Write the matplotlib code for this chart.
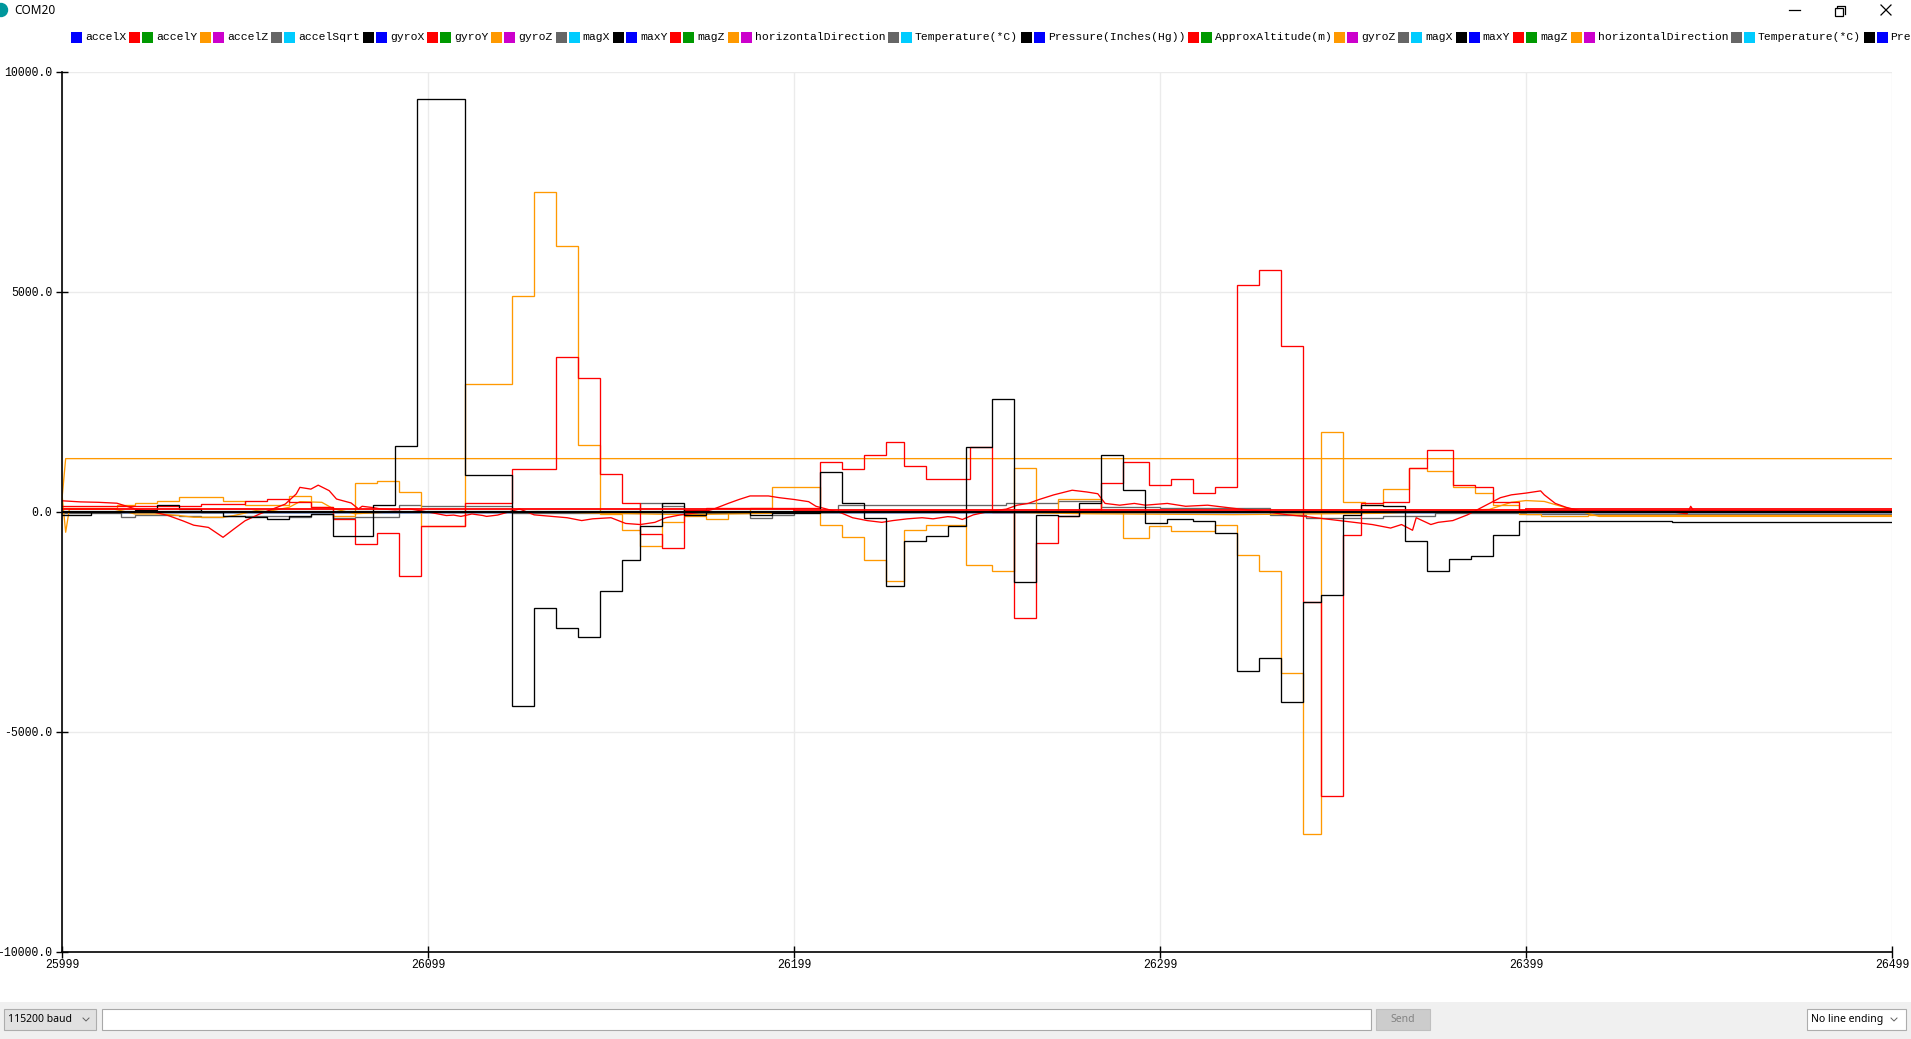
"""Arduino serial plotter screenshot (COM20) rebuilt with matplotlib."""

import matplotlib
matplotlib.use("Agg")
import matplotlib.pyplot as plt
from matplotlib.patches import Rectangle, Circle

W, H = 1911, 1039
X0 = 25999          # first sample number on the x axis
N = 500             # samples visible in the window

PALETTE = ["#0000FF", "#FF0000", "#009900", "#FF9900",
           "#CC00CC", "#666666", "#00CCFF", "#000000"]

LEGEND_LABELS = [
    "accelX", "", "accelY", "", "accelZ", "", "accelSqrt", "",
    "gyroX", "", "gyroY", "", "gyroZ", "", "magX", "", "maxY", "",
    "magZ", "", "horizontalDirection", "", "Temperature(*C)", "",
    "Pressure(Inches(Hg))", "", "ApproxAltitude(m)", "", "gyroZ", "",
    "magX", "", "maxY", "", "magZ", "", "horizontalDirection", "",
    "Temperature(*C)", "", "Pressure(Inches(Hg))",
]

X_TICKS = [25999, 26099, 26199, 26299, 26399, 26499]
Y_TICKS = [-10000, -5000, 0, 5000, 10000]

# ── step-like series: sample offset where a value starts, and the value ─────
BLACK_START = [0, 8, 20, 26, 32, 38, 44, 50, 56, 62, 68, 74, 85, 91, 97, 110,
               123, 129, 135, 141, 147, 153, 158, 164, 170, 176, 188, 194, 207,
               213, 219, 225, 230, 236, 242, 247, 254, 260, 266, 272, 278, 284,
               290, 296, 302, 309, 315, 321, 327, 333, 339, 344, 350, 355, 361,
               367, 373, 379, 385, 391, 398, 440, 476]
BLACK_VAL = [-60, 0, 50, 160, 70, 0, -100, -120, -160, -80, -40, -550, 160,
             1490, 9380, 845, -4420, -2180, -2640, -2830, -1790, -1100, -325,
             195, -65, 0, -65, -20, 910, 195, -130, -1690, -650, -550, -325,
             1470, 2560, -1600, -65, -90, 195, 1300, 500, -260, -155, -195,
             -480, -3610, -3315, -4320, -2040, -1885, -65, 170, 130, -650,
             -1330, -1070, -1000, -520, -210, -235, -230]

ORANGE_START = [0, 15, 20, 26, 32, 44, 50, 62, 68, 74, 80, 86, 92, 98, 110,
                123, 129, 135, 141, 147, 153, 158, 164, 170, 176, 182, 188, 194,
                207, 213, 219, 225, 230, 236, 247, 254, 260, 266, 272, 284, 290,
                297, 303, 315, 321, 327, 333, 339, 344, 350, 356, 361, 368, 373,
                380, 386, 391, 398, 404, 417]
ORANGE_VAL = [80, 160, 200, 260, 350, 260, 160, 370, 105, -80, 650, 710, 460,
              -310, 2920, 4900, 7280, 6040, 1520, -40, -415, -780, -235, -90,
              -150, 0, 100, 560, -300, -560, -1100, -1560, -415, -300, -1200,
              -1330, 1000, 0, 300, 0, -585, -325, -430, -290, -975, -1330,
              -3670, -7320, 1820, 220, 170, 520, 1000, 940, 560, 430, 170, -40,
              -100, -65]

RED_START = [0, 38, 50, 56, 62, 68, 74, 80, 86, 92, 98, 110, 123, 135, 141,
             147, 153, 158, 164, 170, 176, 207, 213, 219, 225, 230, 236, 248,
             254, 260, 266, 272, 278, 284, 290, 297, 303, 309, 315, 321, 327,
             333, 339, 344, 350, 355, 361, 368, 373, 380, 386, 391, 398]
RED_VAL = [140, 180, 260, 295, 220, 105, -160, -725, -485, -1445, -320, 195,
           975, 3530, 3050, 870, 195, -495, -820, 40, 90, 1140, 975, 1300, 1600,
           1040, 740, 1470, 0, -2400, -715, -90, 65, 650, 1140, 610, 740, 430,
           560, 5160, 5490, 3770, -2040, -6460, -520, 195, 220, 1010, 1400, 610,
           560, 220, 40]

GRAY_START = [0, 16, 20, 32, 38, 44, 62, 68, 74, 80, 92, 98, 123, 158, 164,
              170, 188, 194, 200, 212, 230, 258, 272, 284, 300, 330, 340, 361,
              375, 400]
GRAY_VAL = [-30, -120, -60, -80, -120, -80, -120, -40, -140, -120, 160, 130,
            -20, 195, 130, -20, -130, -70, 0, 170, 150, 200, 260, 120, 80, -60,
            -130, -100, -20, -40]

# flat-ish traces sitting on the zero line
RED_FLAT_START = [0, 200, 400]
RED_FLAT_VAL = [60, 50, 60]
BLACK_FLAT_START = [0, 250]
BLACK_FLAT_VAL = [10, 0]
ZERO_START = [0]
ZERO_VAL = [0]

ORANGE_CONST_X = [0, 1, 500]
ORANGE_CONST_Y = [300, 1213, 1213]

# ── smooth traces: sample offset, value ─────────────────────────────────────
RED_WAVE_X = [0, 5, 10, 15, 20, 25, 29, 33, 36, 40, 44, 47, 50, 54, 57, 61, 64,
              65, 68, 70, 73, 75, 79, 81, 82, 85, 87, 91, 95, 100, 105, 107,
              109, 112, 115, 116, 119, 122, 125, 129, 138, 142, 145, 150, 154,
              158, 162, 165, 169, 175, 178, 182, 185, 188, 193, 196, 200, 204,
              206, 209, 213, 216, 220, 224, 227, 231, 235, 238, 242, 244, 246,
              249, 254, 258, 261, 264, 267, 271, 276, 280, 283, 285, 289, 293,
              296, 302, 307, 313, 318, 322, 327, 335, 340, 349, 353, 358, 363,
              366, 369, 370, 374, 376, 380, 384, 387, 390, 393, 396, 400, 404,
              405, 408, 411, 415, 420, 440, 444, 445, 446, 450, 500]
RED_WAVE_Y = [255, 230, 220, 200, 70, 0, -80, -200, -300, -350, -575, -385,
              -200, -45, 50, 180, 410, 560, 520, 610, 485, 295, 205, 70, 130,
              100, 70, 50, 70, 0, -80, -70, -100, -45, -80, -100, -70, 0, 70,
              -65, -130, -195, -155, -130, -260, -285, -235, -130, -65, 0, 65,
              195, 285, 365, 365, 325, 285, 235, 130, 65, -25, -130, -195, -235,
              -195, -155, -130, -155, -105, -120, -170, -65, 25, 65, 155, 195,
              285, 390, 495, 455, 415, 195, 155, 195, 155, 195, 130, 155, 105,
              65, 25, -65, -105, -195, -235, -285, -365, -285, -415, -130,
              -285, -235, -195, -65, 65, 195, 325, 390, 430, 480, 390, 195, 105,
              25, 0, 0, -40, 130, 0, 0, 0]

ORANGE_WAVE_X = [0, 1, 2, 14, 20, 27, 32, 36, 44, 47, 53, 56, 62, 65, 71, 74,
                 80, 90, 110, 130, 150, 170, 200, 240, 280, 320, 360, 390, 396,
                 400, 405, 410, 420, 500]
ORANGE_WAVE_Y = [400, -460, 60, 70, -45, -45, -80, -120, -120, -80, 30, 10, 105,
                 235, 220, 80, -40, 0, -10, 10, -30, -60, -20, 20, -40, -60, -30,
                 60, 220, 260, 240, 120, -100, -100]


def px_x(p):
    return p / W


def px_y(p):
    return 1 - p / H


def step_line(ax, starts, vals, color, lw=0.95):
    xs = [X0 + s for s in starts] + [X0 + N]
    ys = list(vals) + [vals[-1]]
    ax.plot(xs, ys, drawstyle="steps-post", color=color, lw=lw,
            solid_joinstyle="miter")


def main():
    fig = plt.figure(figsize=(W / 100, H / 100), dpi=100, facecolor="white")

    # overlay in pixel coordinates for the window chrome
    ov = fig.add_axes([0, 0, 1, 1])
    ov.set_xlim(0, W)
    ov.set_ylim(H, 0)
    ov.axis("off")
    ov.patch.set_alpha(0)

    # title bar
    ov.add_patch(Circle((1, 10), 6.5, color="#00979C", clip_on=False))
    ov.text(14, 10, "COM20", fontsize=8.5, family="Noto Sans",
            ha="left", va="center", color="#000000")
    ov.plot([1789, 1800], [10, 10], color="#000000", lw=0.9)
    ov.add_patch(Rectangle((1835, 8), 8, 8, fill=False, ec="#000000", lw=0.9))
    ov.plot([1837, 1837, 1845, 1845], [8, 6, 6, 14], color="#000000", lw=0.9)
    ov.plot([1881, 1891], [5, 15], color="#000000", lw=0.9)
    ov.plot([1881, 1891], [15, 5], color="#000000", lw=0.9)

    # legend row (monospace, so the cursor can advance by character count)
    mono = "Liberation Mono"
    char_w = 6.85
    cur = 71
    for i, lab in enumerate(LEGEND_LABELS):
        ov.add_patch(Rectangle((cur, 32), 11, 11, color=PALETTE[i % 8], lw=0))
        cur += 11
        if lab:
            cur += 3
            ov.text(cur, 37.5, lab, fontsize=8.2, family=mono,
                    ha="left", va="center", color="#000000")
            cur += len(lab) * char_w + 3
        else:
            cur += 2

    # bottom control bar
    ov.add_patch(Rectangle((0, 1002), W, 37, color="#F0F0F0", lw=0))
    ov.add_patch(Rectangle((4, 1009), 92, 21, fc="#E1E1E1", ec="#ADADAD", lw=0.8))
    ov.text(8, 1019.5, "115200 baud", fontsize=7.5, family="Noto Sans",
            ha="left", va="center", color="#000000")
    ov.plot([83, 86, 89], [1018, 1021, 1018], color="#606060", lw=0.7)
    ov.add_patch(Rectangle((102, 1009), 1269, 21, fc="white", ec="#A8A8A8", lw=0.8))
    ov.add_patch(Rectangle((1376, 1009), 54, 21, fc="#CCCCCC", ec="#BFBFBF", lw=0.8))
    ov.text(1403, 1019.5, "Send", fontsize=7.5, family="Noto Sans",
            ha="center", va="center", color="#838383")
    ov.add_patch(Rectangle((1807, 1009), 99, 21, fc="white", ec="#ADADAD", lw=0.8))
    ov.text(1811, 1019.5, "No line ending", fontsize=7.5, family="Noto Sans",
            ha="left", va="center", color="#000000")
    ov.plot([1891, 1894, 1897], [1018, 1021, 1018], color="#606060", lw=0.7)

    # plot area
    ax = fig.add_axes([px_x(62), px_y(952), px_x(1892 - 62), (952 - 72) / H])
    ax.set_facecolor("white")
    ax.set_xlim(X_TICKS[0], X_TICKS[-1])
    ax.set_ylim(Y_TICKS[0], Y_TICKS[-1])
    ax.set_axisbelow(True)
    ax.grid(True, color="#EBEBEB", lw=1.0)
    for side in ("top", "right"):
        ax.spines[side].set_visible(False)
    for side in ("left", "bottom"):
        ax.spines[side].set_color("#000000")
        ax.spines[side].set_linewidth(1.2)

    ax.set_xticks(X_TICKS)
    ax.set_xticklabels([str(t) for t in X_TICKS], family=mono, fontsize=8.3)
    ax.set_yticks(Y_TICKS)
    ax.set_yticklabels(["%.1f" % t for t in Y_TICKS], family=mono, fontsize=8.3)
    ax.tick_params(axis="both", direction="inout", length=8, width=1.0,
                   color="#000000")
    ax.tick_params(axis="x", pad=1)
    ax.tick_params(axis="y", pad=3)

    # traces, drawn in roughly the plotter's order (later ones on top)
    for c in (PALETTE[0], PALETTE[2], PALETTE[4], PALETTE[6]):
        step_line(ax, ZERO_START, ZERO_VAL, c)
    step_line(ax, GRAY_START, GRAY_VAL, PALETTE[5])
    ax.plot([X0 + x for x in ORANGE_WAVE_X], ORANGE_WAVE_Y,
            color=PALETTE[3], lw=0.95)
    ax.plot([X0 + x for x in ORANGE_CONST_X], ORANGE_CONST_Y,
            color=PALETTE[3], lw=0.95)
    step_line(ax, ORANGE_START, ORANGE_VAL, PALETTE[3])
    ax.plot([X0 + x for x in RED_WAVE_X], RED_WAVE_Y, color=PALETTE[1], lw=0.95)
    step_line(ax, RED_START, RED_VAL, PALETTE[1])
    step_line(ax, BLACK_START, BLACK_VAL, PALETTE[7])
    step_line(ax, BLACK_FLAT_START, BLACK_FLAT_VAL, PALETTE[7], lw=1.6)
    step_line(ax, RED_FLAT_START, RED_FLAT_VAL, PALETTE[1], lw=1.3)

    fig.savefig("out.png", dpi=100, facecolor="white")
    plt.close(fig)


if __name__ == "__main__":
    main()
